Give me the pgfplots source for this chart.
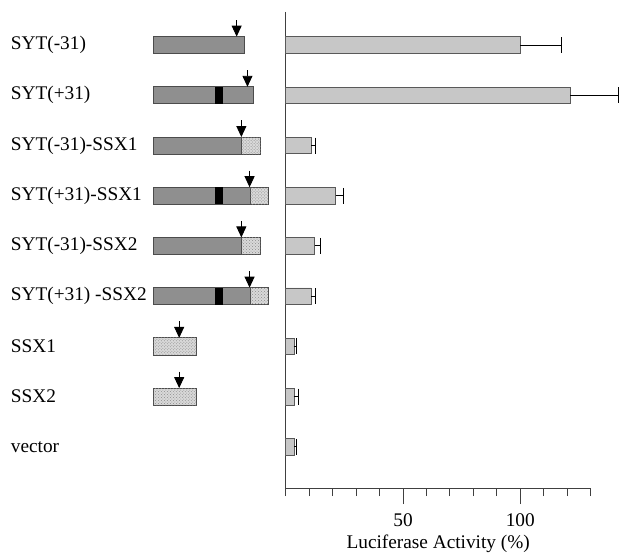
\documentclass[border=0pt]{standalone}
\usepackage{pgfplots}
\pgfplotsset{compat=1.18}
\usepackage{pgfplotstable}
\usepackage{fontspec}
\setmainfont{Liberation Serif}
\usetikzlibrary{patterns,arrows.meta}
\newcommand{\bigf}{\fontsize{19.3bp}{23bp}\selectfont}

\pgfplotstableread{
row val err
0 100 17.4
1 121.3 20.7
2 10.8 2.1
3 21.3 3.5
4 12.3 2.6
5 10.8 1.8
6 3.5 1.2
7 3.5 1.9
8 3.7 1.0
}\lucdata

\begin{document}
\begin{tikzpicture}[font=\bigf,
  gr/.style={draw=black!70, line width=0.8bp, fill=black!44},
  hat/.style={draw=black!70, line width=0.8bp, fill=black!15, postaction={pattern=crosshatch dots, pattern color=black!45}},
  blk/.style={fill=black},
  arr/.style={line width=0.9bp, -{Triangle[length=11bp,width=10bp]}}]
\begin{axis}[
  scale only axis, width=305bp, height=476bp,
  xmin=0, xmax=130, ymin=-0.66, ymax=8.82, y dir=reverse,
  clip=false,
  axis x line=bottom, axis y line=left,
  axis line style={-, line width=1bp, black!75},
  xtick={50,100}, minor xtick={0,10,...,130},
  tick align=outside,
  major tick length=16bp, minor tick length=8bp,
  xtick style={line width=1bp, black!75},
  minor tick style={line width=1bp, black!75},
  ytick={0,...,8},
  ytick style={draw=none},
  yticklabels={SYT(-31),SYT(+31),SYT(-31)-SSX1,SYT(+31)-SSX1,SYT(-31)-SSX2,SYT(+31) -SSX2,SSX1,SSX2,vector},
  tick label style={font=\bigf},
  label style={font=\bigf},
  yticklabel style={anchor=west, inner sep=0pt, xshift=-259bp},
  xticklabel style={yshift=-6bp},
  /pgf/number format/assume math mode=true,
  xlabel={Luciferase Activity (\%)},
  xlabel style={yshift=-2bp},
  xbar, bar width=0.33,
]
\addplot[xbar, bar width=0.33, fill=black!22, draw=black!65, line width=0.8bp,
  error bars/.cd, x dir=plus, x explicit, error mark=|,
  error mark options={black, mark size=8bp, line width=1bp},
  error bar style={black, line width=1bp}]
  table[x=val, y=row, x error=err] {\lucdata};
\coordinate (O) at (axis cs:0,8.82);
% schematics
\draw[gr] (axis cs:-56.3,-0.17) rectangle (axis cs:-17.6,0.17);
\draw[arr] (axis cs:-20.9,-0.5) -- (axis cs:-20.9,-0.17);
\draw[gr] (axis cs:-56.3,0.83) rectangle (axis cs:-13.8,1.17);
\fill[blk] (axis cs:-30.1,0.83) rectangle (axis cs:-26.6,1.17);
\draw[arr] (axis cs:-16.3,0.5) -- (axis cs:-16.3,0.83);
% row 2
\draw[gr] (axis cs:-56.3,1.83) rectangle (axis cs:-18.7,2.17);
\draw[hat] (axis cs:-18.7,1.83) rectangle (axis cs:-10.6,2.17);
\draw[arr] (axis cs:-18.9,1.5) -- (axis cs:-18.9,1.83);
% row 4
\draw[gr] (axis cs:-56.3,3.83) rectangle (axis cs:-18.7,4.17);
\draw[hat] (axis cs:-18.7,3.83) rectangle (axis cs:-10.6,4.17);
\draw[arr] (axis cs:-18.9,3.5) -- (axis cs:-18.9,3.83);
% row 3
\draw[gr] (axis cs:-56.3,2.83) rectangle (axis cs:-15.2,3.17);
\fill[blk] (axis cs:-30.1,2.83) rectangle (axis cs:-26.6,3.17);
\draw[hat] (axis cs:-15.2,2.83) rectangle (axis cs:-7.4,3.17);
\draw[arr] (axis cs:-15.4,2.5) -- (axis cs:-15.4,2.83);
% row 5
\draw[gr] (axis cs:-56.3,4.83) rectangle (axis cs:-15.2,5.17);
\fill[blk] (axis cs:-30.1,4.83) rectangle (axis cs:-26.6,5.17);
\draw[hat] (axis cs:-15.2,4.83) rectangle (axis cs:-7.4,5.17);
\draw[arr] (axis cs:-15.4,4.5) -- (axis cs:-15.4,4.83);
% rows 6,7
\draw[hat] (axis cs:-56.3,5.83) rectangle (axis cs:-37.9,6.17);
\draw[arr] (axis cs:-45.4,5.5) -- (axis cs:-45.4,5.83);
\draw[hat] (axis cs:-56.3,6.83) rectangle (axis cs:-37.9,7.17);
\draw[arr] (axis cs:-45.4,6.5) -- (axis cs:-45.4,6.83);
\end{axis}
\pgfresetboundingbox
\path[use as bounding box] ([xshift=-285.7bp,yshift=-65bp]O) rectangle ++(620bp,553bp);
\end{tikzpicture}
\end{document}
